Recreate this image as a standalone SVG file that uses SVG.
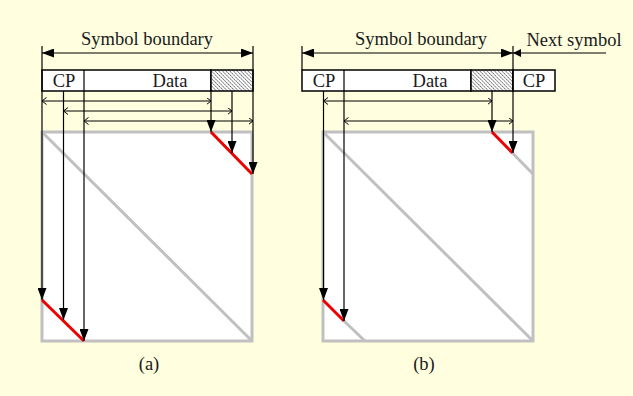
<svg xmlns="http://www.w3.org/2000/svg" width="633" height="396" viewBox="0 0 633 396">
<style>
text{font-family:"Liberation Serif","Times New Roman",serif;font-size:18.5px;fill:#1a1a1a}
.box{fill:#fff;stroke:#000;stroke-width:1.5}
.hatch{fill:url(#hp);stroke:#000;stroke-width:1.5}
.sq{fill:#fff;stroke:#c0c0c0;stroke-width:3}
.gd{stroke:#c0c0c0;stroke-width:3;fill:none}
.red{stroke:#ee0000;stroke-width:3;fill:none}
.ln{stroke:#000;stroke-width:1.2;fill:none}
.dn{stroke:#000;stroke-width:1.2;fill:none;marker-end:url(#ah)}
.bd{stroke:#000;stroke-width:1.2;fill:none;marker-start:url(#ah);marker-end:url(#ah)}
.oa{stroke:#000;stroke-width:1;fill:none;marker-start:url(#oh);marker-end:url(#oh)}
</style>
<defs>
<pattern id="hp" width="2.6" height="2.6" patternUnits="userSpaceOnUse" patternTransform="rotate(-45)">
<rect width="2.6" height="2.6" fill="#fff"/>
<line x1="0" y1="0" x2="0" y2="2.6" stroke="#333" stroke-width="1.3" stroke-dasharray="1.6 0.6"/>
</pattern>
<marker id="ah" markerUnits="userSpaceOnUse" markerWidth="13" markerHeight="9" refX="12" refY="4.5" orient="auto-start-reverse" viewBox="0 0 13 9">
<path d="M0,0 L12,4.5 L0,9 z" fill="#000"/>
</marker>
<marker id="sh" markerUnits="userSpaceOnUse" markerWidth="9" markerHeight="8" refX="8" refY="4" orient="auto-start-reverse" viewBox="0 0 9 8">
<path d="M0,0 L8,4 L0,8 z" fill="#000"/>
</marker>
<marker id="oh" markerUnits="userSpaceOnUse" markerWidth="6" markerHeight="8" refX="4.5" refY="3.5" orient="auto-start-reverse" viewBox="0 0 6 8">
<path d="M0,0 L4.5,3.5 L0,7" fill="none" stroke="#000" stroke-width="1"/>
</marker>
</defs>
<rect width="633" height="396" fill="#ffffe0"/>

<g id="panel-a-square">
<rect class="sq" x="42" y="132" width="210" height="209"/>
<line class="gd" x1="42" y1="132" x2="252" y2="341"/>
<line class="red" x1="211" y1="132" x2="252" y2="174"/>
<line class="red" x1="42" y1="300" x2="84" y2="341"/>
</g>
<g id="panel-b-square">
<rect class="sq" x="323" y="132" width="210" height="209"/>
<line class="gd" x1="323" y1="132" x2="533" y2="341"/>
<line class="gd" x1="512.5" y1="153" x2="533" y2="174"/>
<line class="gd" x1="344" y1="321" x2="365" y2="341"/>
<line class="red" x1="492" y1="132" x2="512.5" y2="153"/>
<line class="red" x1="323" y1="300" x2="344" y2="321"/>
</g>

<g id="panel-a-symbol">
<rect class="box" x="42" y="70" width="169" height="21"/>
<line class="ln" x1="84" y1="70" x2="84" y2="91"/>
<rect class="hatch" x="211" y="70" width="42" height="21"/>
<text x="64" y="87" text-anchor="middle">CP</text>
<text x="170" y="87" text-anchor="middle">Data</text>
<text x="147" y="45" text-anchor="middle">Symbol boundary</text>
</g>
<g id="panel-b-symbol">
<rect class="box" x="302" y="70" width="169" height="21"/>
<line class="ln" x1="344" y1="70" x2="344" y2="91"/>
<rect class="hatch" x="471" y="70" width="42" height="21"/>
<rect class="box" x="513" y="70" width="42" height="21"/>
<text x="324" y="87" text-anchor="middle">CP</text>
<text x="430" y="87" text-anchor="middle">Data</text>
<text x="534" y="87" text-anchor="middle">CP</text>
<text x="421" y="45" text-anchor="middle">Symbol boundary</text>
<text x="526.5" y="46">Next symbol</text>
</g>

<g id="connectors">
<line class="bd" x1="42" y1="53" x2="253" y2="53"/>
<line class="dn" x1="42" y1="46" x2="42" y2="300"/>
<line class="dn" x1="253" y1="46" x2="253" y2="174"/>
<line class="dn" x1="211" y1="91" x2="211" y2="132"/>
<line class="dn" x1="232" y1="91" x2="232" y2="153"/>
<line class="dn" x1="63.5" y1="91" x2="63.5" y2="320"/>
<line class="dn" x1="84" y1="91" x2="84" y2="341"/>
<line class="oa" x1="42" y1="101" x2="211" y2="101"/>
<line class="oa" x1="63.5" y1="111" x2="232" y2="111"/>
<line class="oa" x1="84" y1="121" x2="253" y2="121"/>
<line class="bd" x1="302" y1="53" x2="513" y2="53"/>
<line class="ln" x1="513" y1="53" x2="606" y2="53" style="marker-start:url(#sh)"/>
<line class="ln" x1="302" y1="46" x2="302" y2="70"/>
<line class="dn" x1="513" y1="46" x2="513" y2="153"/>
<line class="dn" x1="492" y1="91" x2="492" y2="132"/>
<line class="dn" x1="323.5" y1="91" x2="323.5" y2="300"/>
<line class="dn" x1="344" y1="91" x2="344" y2="321"/>
<line class="oa" x1="323.5" y1="101" x2="492" y2="101"/>
<line class="oa" x1="344" y1="121" x2="513" y2="121"/>
</g>

<text x="149" y="370" text-anchor="middle">(a)</text>
<text x="424" y="370" text-anchor="middle">(b)</text>
</svg>
